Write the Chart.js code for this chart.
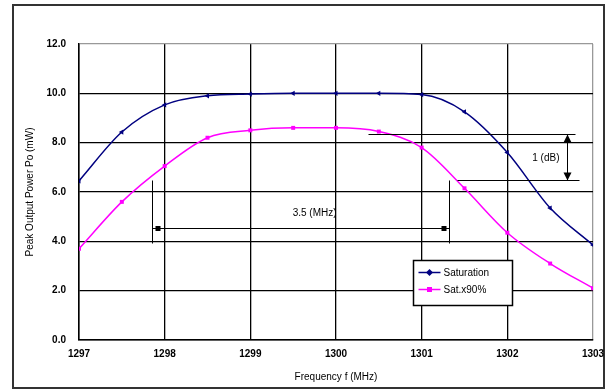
<!DOCTYPE html>
<html><head><meta charset="utf-8">
<script src="https://cdn.jsdelivr.net/npm/chart.js@4/dist/chart.umd.min.js"></script>
<style>html,body{margin:0;padding:0;background:#fff}#wrap{width:608px;height:390px;position:relative}</style>
</head><body><div id="wrap"><canvas id="c" width="608" height="390"></canvas></div>
<script>
const freqs = [1297,1297.5,1298,1298.5,1299,1299.5,1300,1300.5,1301,1301.5,1302,1302.5,1303];
const saturation = [6.45,8.43,9.53,9.9,9.97,10.0,10.0,10.0,9.95,9.25,7.6,5.35,3.85];
const sat90 = [3.7,5.6,7.05,8.2,8.5,8.6,8.6,8.45,7.8,6.15,4.35,3.1,2.1];
const seriesNames = ['Saturation','Sat.x90%'];
const xTicks = [1297,1298,1299,1300,1301,1302,1303];
const yTicks = [0,2,4,6,8,10,12];
// annotation guides in data units
const dbLevels = [8.35, 6.49];
const dbLineX = [[1300.37,1302.79],[1301.41,1302.84]];
const dbArrowX = 1302.70;
const dbLabel = {x:1302.45, y:7.38, text:'1 (dB)'};
const bwEdges = [1297.85, 1301.32];
const bwBottom = 3.93;
const bwArrowY = 4.54;
const bwLabel = {x:1299.75, y:5.15, text:'3.5 (MHz)'};

const FONT = '"Liberation Sans", Arial, sans-serif';

const guides = {
  id:'guides',
  beforeDraw(chart){
    const ctx = chart.ctx;
    ctx.save();
    ctx.fillStyle='#fff'; ctx.fillRect(0,0,608,390);
    ctx.strokeStyle='#333'; ctx.lineWidth=2;
    ctx.strokeRect(13,5,591,383);
    ctx.restore();
  },
  afterDatasetsDraw(chart){
    const ctx = chart.ctx, xs = chart.scales.x, ys = chart.scales.y;
    const X = v=>Math.round(xs.getPixelForValue(v))+0.5, Y = v=>Math.round(ys.getPixelForValue(v))+0.5;
    ctx.save();
    ctx.strokeStyle='#000'; ctx.fillStyle='#000'; ctx.lineWidth=1;
    dbLevels.forEach((lv,i)=>{ctx.beginPath();ctx.moveTo(X(dbLineX[i][0]),Y(lv));ctx.lineTo(X(dbLineX[i][1]),Y(lv));ctx.stroke();});
    const ax = X(dbArrowX), ay1=Y(dbLevels[0]), ay2=Y(dbLevels[1]);
    ctx.beginPath();ctx.moveTo(ax,ay1);ctx.lineTo(ax,ay2);ctx.stroke();
    ctx.beginPath();ctx.moveTo(ax,ay1);ctx.lineTo(ax-4,ay1+8);ctx.lineTo(ax+4,ay1+8);ctx.closePath();ctx.fill();
    ctx.beginPath();ctx.moveTo(ax,ay2);ctx.lineTo(ax-4,ay2-8);ctx.lineTo(ax+4,ay2-8);ctx.closePath();ctx.fill();
    bwEdges.forEach(e=>{ctx.beginPath();ctx.moveTo(X(e),Y(dbLevels[1]));ctx.lineTo(X(e),Y(bwBottom));ctx.stroke();});
    const by=Y(bwArrowY), bx1=X(bwEdges[0]), bx2=X(bwEdges[1]);
    ctx.beginPath();ctx.moveTo(bx1,by);ctx.lineTo(bx2,by);ctx.stroke();
    ctx.fillRect(bx1+3,by-2.5,5,5);ctx.fillRect(bx2-8,by-2.5,5,5);
    ctx.font='10px '+FONT; ctx.textAlign='center'; ctx.textBaseline='middle';
    ctx.fillText(dbLabel.text, xs.getPixelForValue(dbLabel.x), ys.getPixelForValue(dbLabel.y));
    ctx.fillText(bwLabel.text, xs.getPixelForValue(bwLabel.x), ys.getPixelForValue(bwLabel.y));
    const lx=413.5, ly=260.5, lw=99, lh=45;
    ctx.fillStyle='#fff'; ctx.fillRect(lx,ly,lw,lh);
    ctx.strokeStyle='#000'; ctx.lineWidth=1.5; ctx.strokeRect(lx,ly,lw,lh);
    chart.data.datasets.forEach((ds,i)=>{
      const yy = ly+12+i*17;
      ctx.strokeStyle=ds.borderColor; ctx.lineWidth=1.5;
      ctx.beginPath();ctx.moveTo(lx+5,yy);ctx.lineTo(lx+27,yy);ctx.stroke();
      ctx.fillStyle=ds.borderColor;
      if(i===0){ctx.beginPath();ctx.moveTo(lx+16,yy-3.5);ctx.lineTo(lx+19.5,yy);ctx.lineTo(lx+16,yy+3.5);ctx.lineTo(lx+12.5,yy);ctx.closePath();ctx.fill();}
      else ctx.fillRect(lx+13.5,yy-2.5,5,5);
      ctx.fillStyle='#000'; ctx.font='10px '+FONT; ctx.textAlign='left';
      ctx.fillText(ds.label, lx+30, yy+0.5);
    });
    ctx.restore();
  }
};

new Chart(document.getElementById('c'),{
  type:'line',
  data:{datasets:[
    {label:seriesNames[0], data:freqs.map((f,i)=>({x:f,y:saturation[i]})), borderColor:'#000080', backgroundColor:'#000080', borderWidth:1.5, cubicInterpolationMode:'monotone', pointStyle:'triangle', rotation:270, pointRadius:3, pointBorderWidth:0},
    {label:seriesNames[1], data:freqs.map((f,i)=>({x:f,y:sat90[i]})), borderColor:'#FF00FF', backgroundColor:'#FF00FF', borderWidth:1.5, cubicInterpolationMode:'monotone', pointStyle:'rect', pointRadius:2.8, pointBorderWidth:0}
  ]},
  options:{
    responsive:false, animation:false, devicePixelRatio:1,
    layout:{padding:{left:0,top:44,right:15,bottom:0}},
    plugins:{legend:{display:false},tooltip:{enabled:false}},
    scales:{
      x:{type:'linear',min:1297,max:1303,
        afterBuildTicks(s){s.ticks=xTicks.map(v=>({value:v}));},
        afterFit(s){s.height=50;s.paddingRight=0;s.paddingLeft=0;},
        grid:{color:c=>c.tick&&c.tick.value===1303?'#999':'#000',lineWidth:1.3,drawTicks:false},
        border:{color:'#000',width:1.5},
        ticks:{padding:8,color:'#000',font:{family:FONT,size:10,weight:'bold'},maxRotation:0,callback:v=>String(v)},
        title:{display:true,text:'Frequency f (MHz)',color:'#000',font:{family:FONT,size:10},padding:{top:0,bottom:7}}
      },
      y:{min:0,max:12,
        afterBuildTicks(s){s.ticks=yTicks.map(v=>({value:v}));},
        afterFit(s){s.width=79;s.paddingTop=0;s.paddingBottom=0;},
        grid:{color:c=>c.tick&&c.tick.value===12?'#999':'#000',lineWidth:1.3,drawTicks:false},
        border:{color:'#000',width:1.5},
        ticks:{padding:13,color:'#000',font:{family:FONT,size:10,weight:'bold'},callback:v=>v.toFixed(1)},
        title:{display:true,text:'Peak Output Power Po (mW)',color:'#000',font:{family:FONT,size:10},padding:{top:24,bottom:0}}
      }
    }
  },
  plugins:[guides]
});
</script></body></html>
